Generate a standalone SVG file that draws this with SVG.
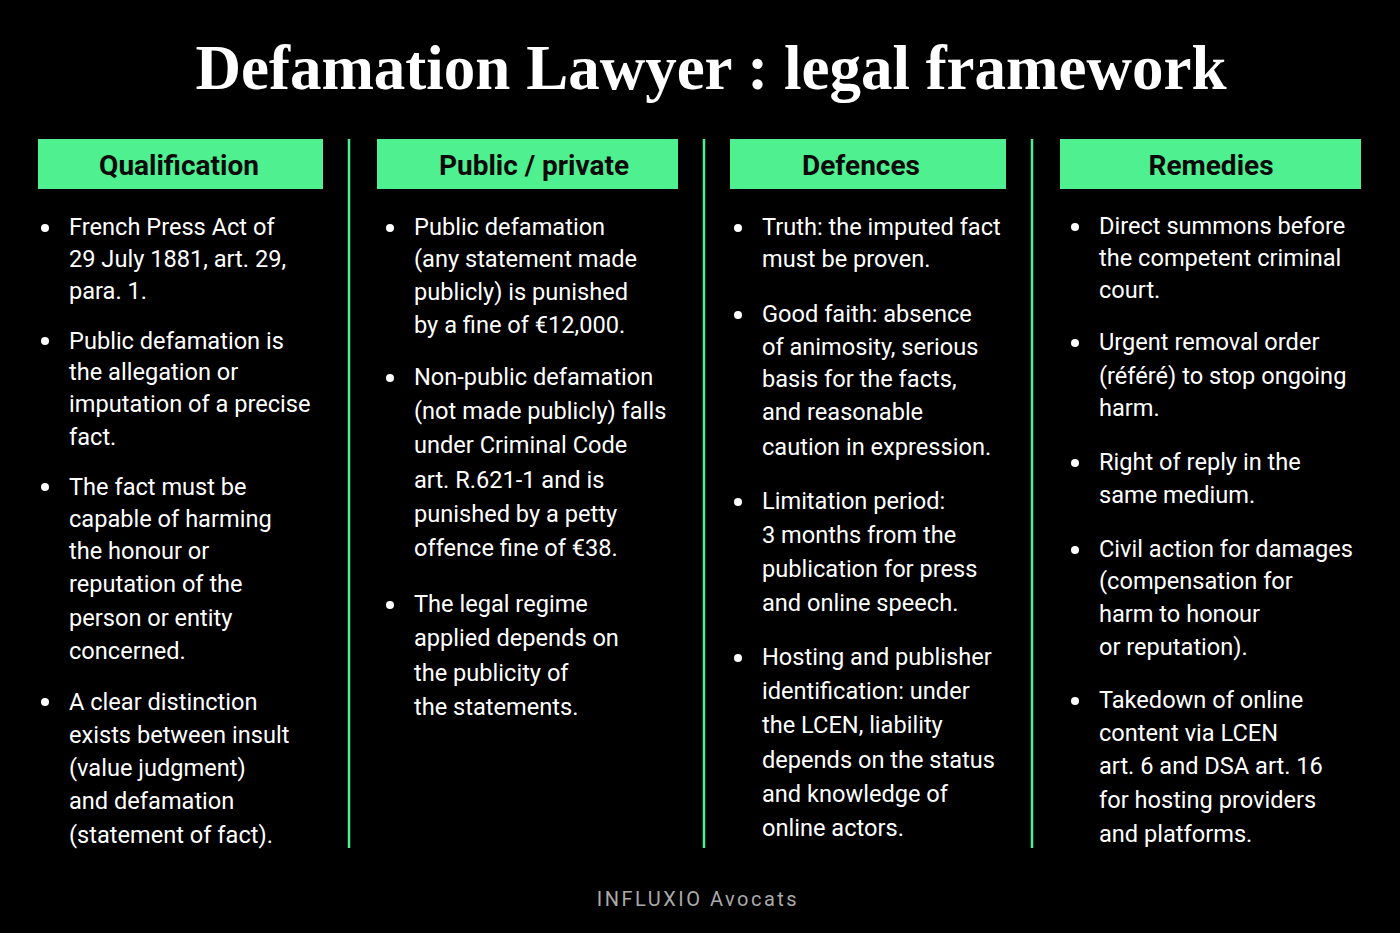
<svg xmlns="http://www.w3.org/2000/svg" width="1400" height="933" viewBox="0 0 1400 933">
<style>
.t{font-family:"Liberation Serif",serif;font-weight:bold;font-size:63px;fill:#fff}
.h{font-family:Roboto,"Liberation Sans",sans-serif;font-weight:bold;font-size:28px;fill:#0a0a0a;text-anchor:middle}
.hb{fill:#4ef08f}
.b{font-family:Roboto,"Liberation Sans",sans-serif;font-size:23.6px;fill:#fff}
.d{fill:#fff}
.dv{stroke:#4ef08f;stroke-width:2.5}
.f{font-family:Roboto,"Liberation Sans",sans-serif;font-size:20px;fill:#aaa;letter-spacing:2.5px;text-anchor:middle}
</style>
<rect width="1400" height="933" fill="#000"/>
<text class="t" x="711" y="89" text-anchor="middle">Defamation Lawyer : legal framework</text>
<g id="connectors">
<line class="dv" x1="349" y1="139" x2="349" y2="848"/>
<line class="dv" x1="704" y1="139" x2="704" y2="848"/>
<line class="dv" x1="1032" y1="139" x2="1032" y2="848"/>
</g>
<g id="col1">
<rect class="hb" x="38" y="139" width="285" height="50"/>
<text class="h" x="179" y="175">Qualification</text>
<circle class="d" cx="45" cy="228" r="4"/><circle class="d" cx="45" cy="341" r="4"/><circle class="d" cx="45" cy="487" r="4"/><circle class="d" cx="45" cy="702" r="4"/>
<text class="b"><tspan x="69" y="235">French Press Act of</tspan><tspan x="69" y="267">29 July 1881, art. 29,</tspan><tspan x="69" y="299">para. 1.</tspan>
<tspan x="69" y="349">Public defamation is</tspan><tspan x="69" y="380">the allegation or</tspan><tspan x="69" y="412">imputation of a precise</tspan><tspan x="69" y="445">fact.</tspan>
<tspan x="69" y="495">The fact must be</tspan><tspan x="69" y="527">capable of harming</tspan><tspan x="69" y="559">the honour or</tspan><tspan x="69" y="592">reputation of the</tspan><tspan x="69" y="626">person or entity</tspan><tspan x="69" y="659">concerned.</tspan>
<tspan x="69" y="710">A clear distinction</tspan><tspan x="69" y="743">exists between insult</tspan><tspan x="69" y="776">(value judgment)</tspan><tspan x="69" y="809">and defamation</tspan><tspan x="69" y="843">(statement of fact).</tspan></text>
</g>
<g id="col2">
<rect class="hb" x="377" y="139" width="301" height="50"/>
<text class="h" x="534" y="175">Public / private</text>
<circle class="d" cx="390" cy="228" r="4"/><circle class="d" cx="390" cy="378" r="4"/><circle class="d" cx="390" cy="605" r="4"/>
<text class="b"><tspan x="414" y="235">Public defamation</tspan><tspan x="414" y="267">(any statement made</tspan><tspan x="414" y="300">publicly) is punished</tspan><tspan x="414" y="333">by a fine of €12,000.</tspan>
<tspan x="414" y="385">Non-public defamation</tspan><tspan x="414" y="419">(not made publicly) falls</tspan><tspan x="414" y="453">under Criminal Code</tspan><tspan x="414" y="488">art. R.621-1 and is</tspan><tspan x="414" y="522">punished by a petty</tspan><tspan x="414" y="556">offence fine of €38.</tspan>
<tspan x="414" y="612">The legal regime</tspan><tspan x="414" y="646">applied depends on</tspan><tspan x="414" y="681">the publicity of</tspan><tspan x="414" y="715">the statements.</tspan></text>
</g>
<g id="col3">
<rect class="hb" x="730" y="139" width="276" height="50"/>
<text class="h" x="861" y="175">Defences</text>
<circle class="d" cx="738" cy="228" r="4"/><circle class="d" cx="738" cy="315" r="4"/><circle class="d" cx="738" cy="502" r="4"/><circle class="d" cx="738" cy="658" r="4"/>
<text class="b"><tspan x="762" y="235">Truth: the imputed fact</tspan><tspan x="762" y="267">must be proven.</tspan>
<tspan x="762" y="322">Good faith: absence</tspan><tspan x="762" y="355">of animosity, serious</tspan><tspan x="762" y="387">basis for the facts,</tspan><tspan x="762" y="420">and reasonable</tspan><tspan x="762" y="455">caution in expression.</tspan>
<tspan x="762" y="509">Limitation period:</tspan><tspan x="762" y="543">3 months from the</tspan><tspan x="762" y="577">publication for press</tspan><tspan x="762" y="611">and online speech.</tspan>
<tspan x="762" y="665">Hosting and publisher</tspan><tspan x="762" y="699">identification: under</tspan><tspan x="762" y="733">the LCEN, liability</tspan><tspan x="762" y="768">depends on the status</tspan><tspan x="762" y="802">and knowledge of</tspan><tspan x="762" y="836">online actors.</tspan></text>
</g>
<g id="col4">
<rect class="hb" x="1060" y="139" width="301" height="50"/>
<text class="h" x="1211" y="175">Remedies</text>
<circle class="d" cx="1075" cy="227" r="4"/><circle class="d" cx="1075" cy="343" r="4"/><circle class="d" cx="1075" cy="463" r="4"/><circle class="d" cx="1075" cy="550" r="4"/><circle class="d" cx="1075" cy="701" r="4"/>
<text class="b"><tspan x="1099" y="234">Direct summons before</tspan><tspan x="1099" y="266">the competent criminal</tspan><tspan x="1099" y="298">court.</tspan>
<tspan x="1099" y="350">Urgent removal order</tspan><tspan x="1099" y="384">(référé) to stop ongoing</tspan><tspan x="1099" y="416">harm.</tspan>
<tspan x="1099" y="470">Right of reply in the</tspan><tspan x="1099" y="503">same medium.</tspan>
<tspan x="1099" y="557">Civil action for damages</tspan><tspan x="1099" y="589">(compensation for</tspan><tspan x="1099" y="622">harm to honour</tspan><tspan x="1099" y="655">or reputation).</tspan>
<tspan x="1099" y="708">Takedown of online</tspan><tspan x="1099" y="741">content via LCEN</tspan><tspan x="1099" y="774">art. 6 and DSA art. 16</tspan><tspan x="1099" y="808">for hosting providers</tspan><tspan x="1099" y="842">and platforms.</tspan></text>
</g>
<text class="f" x="698" y="906">INFLUXIO Avocats</text>
</svg>
